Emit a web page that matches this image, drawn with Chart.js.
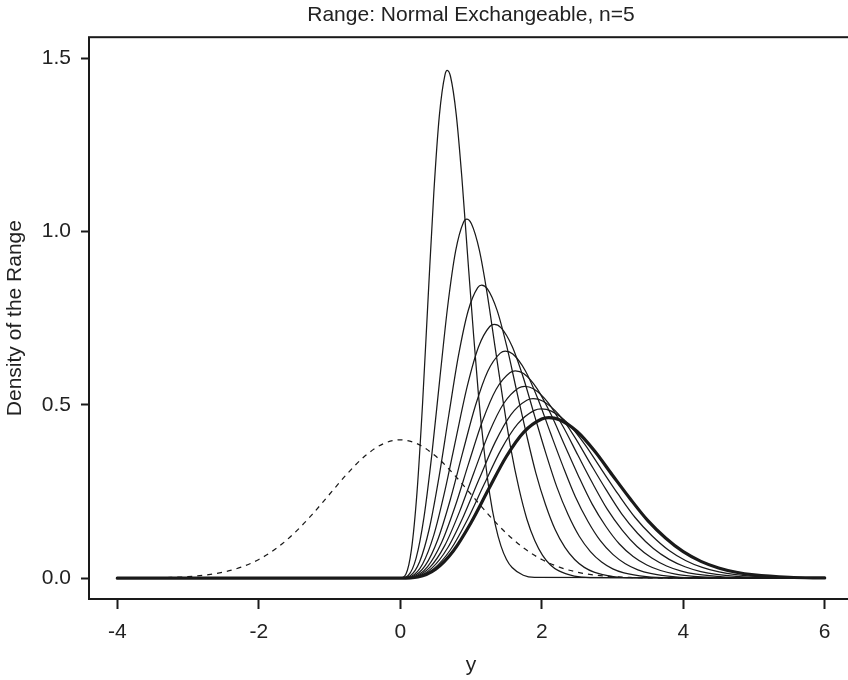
<!DOCTYPE html>
<html>
<head>
<meta charset="utf-8">
<script src="https://cdn.jsdelivr.net/npm/chart.js@4.4.1/dist/chart.umd.min.js"></script>
<style>
  html, body { margin: 0; padding: 0; background: #fff; overflow: hidden; }
  #wrap { width: 848px; height: 680px; overflow: hidden; }
</style>
</head>
<body>
<div id="wrap"><canvas id="chart" width="853" height="680"></canvas></div>
<script>
// Tick values / labels
const xTicks = [-4, -2, 0, 2, 4, 6];
const yTicks = [0, 0.5, 1.0, 1.5];
const yTickLabels = ['0.0', '0.5', '1.0', '1.5'];

// Correlations of the exchangeable normal (one density curve each)
const rhoValues = [0.9, 0.8, 0.7, 0.6, 0.5, 0.4, 0.3, 0.2, 0.1, 0.0];

// Density of the range as [y, density]
const rho90 = [[-4,0],[0,0],[0.079,0.0111],[0.158,0.0822],[0.237,0.2482],[0.316,0.506],[0.395,0.8127],[0.474,1.11],[0.553,1.3345],[0.632,1.4515],[0.664,1.4641],[0.712,1.4452],[0.791,1.3376],[0.87,1.1574],[0.949,0.9392],[1.028,0.7242],[1.107,0.5249],[1.186,0.3668],[1.265,0.2416],[1.344,0.1537],[1.423,0.0933],[1.502,0.0541],[1.581,0.0307],[1.739,0.0085],[1.897,0.0022],[6,0]];
const rho80 = [[-4,0],[0,0],[0.112,0.0078],[0.224,0.0581],[0.335,0.1755],[0.447,0.3578],[0.559,0.5747],[0.671,0.7849],[0.783,0.9436],[0.894,1.0264],[0.939,1.0353],[1.006,1.0219],[1.118,0.9459],[1.23,0.8184],[1.342,0.6641],[1.453,0.5121],[1.565,0.3712],[1.677,0.2594],[1.789,0.1708],[1.901,0.1087],[2.012,0.066],[2.124,0.0382],[2.236,0.0217],[2.46,0.006],[2.683,0.0016],[6,0]];
const rho70 = [[-4,0],[0,0],[0.137,0.0064],[0.274,0.0475],[0.411,0.1433],[0.548,0.2921],[0.685,0.4692],[0.822,0.6408],[0.959,0.7705],[1.095,0.838],[1.15,0.8453],[1.232,0.8344],[1.369,0.7723],[1.506,0.6682],[1.643,0.5423],[1.78,0.4181],[1.917,0.3031],[2.054,0.2118],[2.191,0.1395],[2.328,0.0887],[2.465,0.0539],[2.602,0.0312],[2.739,0.0177],[3.012,0.0049],[3.286,0.0013],[6,0]];
const rho60 = [[-4,0],[0,0],[0.158,0.0055],[0.316,0.0411],[0.474,0.1241],[0.632,0.253],[0.791,0.4064],[0.949,0.555],[1.107,0.6672],[1.265,0.7257],[1.328,0.7321],[1.423,0.7226],[1.581,0.6688],[1.739,0.5787],[1.897,0.4696],[2.055,0.3621],[2.214,0.2625],[2.372,0.1834],[2.53,0.1208],[2.688,0.0768],[2.846,0.0466],[3.004,0.027],[3.162,0.0153],[3.479,0.0043],[3.795,0.0011],[6,0]];
const rho50 = [[-4,0],[0,0],[0.177,0.005],[0.354,0.0368],[0.53,0.111],[0.707,0.2263],[0.884,0.3635],[1.061,0.4964],[1.237,0.5968],[1.414,0.6491],[1.485,0.6548],[1.591,0.6463],[1.768,0.5982],[1.945,0.5176],[2.121,0.42],[2.298,0.3239],[2.475,0.2348],[2.652,0.1641],[2.828,0.1081],[3.005,0.0687],[3.182,0.0417],[3.359,0.0242],[3.536,0.0137],[3.889,0.0038],[4.243,0.001],[6,0]];
const rho40 = [[-4,0],[0,0],[0.194,0.0045],[0.387,0.0336],[0.581,0.1013],[0.775,0.2066],[0.968,0.3318],[1.162,0.4531],[1.356,0.5448],[1.549,0.5926],[1.627,0.5977],[1.743,0.59],[1.936,0.5461],[2.13,0.4725],[2.324,0.3834],[2.517,0.2956],[2.711,0.2143],[2.905,0.1498],[3.098,0.0986],[3.292,0.0627],[3.486,0.0381],[3.679,0.0221],[3.873,0.0125],[4.26,0.0035],[4.648,0.0009],[6,0]];
const rho30 = [[-4,0],[0,0],[0.209,0.0042],[0.418,0.0311],[0.628,0.0938],[0.837,0.1912],[1.046,0.3072],[1.255,0.4195],[1.464,0.5044],[1.673,0.5486],[1.757,0.5534],[1.882,0.5462],[2.092,0.5056],[2.301,0.4375],[2.51,0.355],[2.719,0.2737],[2.928,0.1984],[3.137,0.1387],[3.347,0.0913],[3.556,0.0581],[3.765,0.0353],[3.974,0.0204],[4.183,0.0116],[4.602,0.0032],[5.02,0.0008],[6,0]];
const rho20 = [[-4,0],[0,0],[0.224,0.0039],[0.447,0.0291],[0.671,0.0878],[0.894,0.1789],[1.118,0.2873],[1.342,0.3924],[1.565,0.4718],[1.789,0.5132],[1.878,0.5176],[2.012,0.5109],[2.236,0.4729],[2.46,0.4092],[2.683,0.332],[2.907,0.256],[3.13,0.1856],[3.354,0.1297],[3.578,0.0854],[3.801,0.0543],[4.025,0.033],[4.249,0.0191],[4.472,0.0108],[4.919,0.003],[5.367,0.0008],[6,0]];
const rho10 = [[-4,0],[0,0],[0.237,0.0037],[0.474,0.0274],[0.712,0.0827],[0.949,0.1687],[1.186,0.2709],[1.423,0.37],[1.66,0.4448],[1.897,0.4838],[1.992,0.488],[2.135,0.4817],[2.372,0.4459],[2.609,0.3858],[2.846,0.3131],[3.083,0.2414],[3.32,0.175],[3.558,0.1223],[3.795,0.0805],[4.032,0.0512],[4.269,0.0311],[4.506,0.018],[4.743,0.0102],[5.218,0.0028],[5.692,0.0007],[6,0]];
const rho00 = [[-4,0],[0,0],[0.25,0.0035],[0.5,0.026],[0.75,0.0785],[1,0.16],[1.25,0.257],[1.5,0.351],[1.75,0.422],[2,0.459],[2.1,0.463],[2.25,0.457],[2.5,0.423],[2.75,0.366],[3,0.297],[3.25,0.229],[3.5,0.166],[3.75,0.116],[4,0.0764],[4.25,0.0486],[4.5,0.0295],[4.75,0.0171],[5,0.0097],[5.5,0.0027],[6,0.0007]];

// Standard normal density (dashed reference)
const normal = [[-4,0.0001],[-3.75,0.0004],[-3.5,0.0009],[-3.25,0.002],[-3,0.0044],[-2.75,0.0091],[-2.5,0.0175],[-2.25,0.0317],[-2,0.054],[-1.75,0.0863],[-1.5,0.1295],[-1.25,0.1826],[-1,0.242],[-0.75,0.3011],[-0.5,0.3521],[-0.25,0.3867],[0,0.3989],[0.25,0.3867],[0.5,0.3521],[0.75,0.3011],[1,0.242],[1.25,0.1826],[1.5,0.1295],[1.75,0.0863],[2,0.054],[2.25,0.0317],[2.5,0.0175],[2.75,0.0091],[3,0.0044],[3.25,0.002],[3.5,0.0009],[3.75,0.0004],[4,0.0001],[4.5,0],[5,0],[5.5,0],[6,0]];

const curves = [rho90, rho80, rho70, rho60, rho50, rho40, rho30, rho20, rho10, rho00];

const ink = '#1a1a1a';
const textColor = '#222222';
const fontFamily = '"Liberation Sans", Arial, Helvetica, sans-serif';

const toXY = pts => pts.map(p => ({ x: p[0], y: p[1] }));

const datasets = curves.map((pts, i) => ({
  label: 'rho = ' + rhoValues[i],
  data: toXY(pts),
  borderColor: ink,
  borderWidth: rhoValues[i] === 0 ? 3.2 : 1.25,
  borderCapStyle: 'round',
  pointRadius: 0,
  fill: false,
  cubicInterpolationMode: 'monotone',
}));

datasets.push({
  label: 'N(0,1)',
  data: toXY(normal),
  borderColor: ink,
  borderWidth: 1.25,
  borderDash: [5, 5],
  pointRadius: 0,
  fill: false,
  cubicInterpolationMode: 'monotone',
});

// box around the plot region (right edge falls off the canvas)
const plotBox = {
  id: 'plotBox',
  afterDraw(chart) {
    const { ctx, chartArea: a } = chart;
    ctx.save();
    ctx.strokeStyle = ink;
    ctx.lineWidth = 2;
    ctx.strokeRect(a.left, a.top, a.right - a.left, a.bottom - a.top);
    ctx.restore();
  }
};

new Chart(document.getElementById('chart'), {
  type: 'line',
  data: { datasets },
  plugins: [plotBox],
  options: {
    responsive: false,
    animation: false,
    events: [],
    layout: { padding: 0 },
    plugins: {
      legend: { display: false },
      tooltip: { enabled: false },
      title: {
        display: true,
        text: 'Range: Normal Exchangeable, n=5',
        color: textColor,
        fullSize: false,
        font: { family: fontFamily, size: 21, weight: 'normal' },
        padding: { top: 3, bottom: 9 },
      },
    },
    scales: {
      x: {
        type: 'linear',
        min: -4.4,
        max: 6.4,
        afterBuildTicks: s => { s.ticks = xTicks.map(v => ({ value: v })); },
        afterFit: s => { s.height = 81; },
        border: { display: false },
        grid: { drawOnChartArea: false, tickLength: 10, tickWidth: 2, tickColor: ink },
        ticks: {
          color: textColor, padding: 11, maxRotation: 0, autoSkip: false,
          font: { family: fontFamily, size: 21 },
        },
        title: {
          display: true, text: 'y', color: textColor,
          font: { family: fontFamily, size: 21 },
          padding: { top: 0, bottom: 2 },
        },
      },
      y: {
        min: -0.06,
        max: 1.56,
        afterBuildTicks: s => { s.ticks = yTicks.map(v => ({ value: v })); },
        afterFit: s => { s.width = 89; },
        border: { display: false },
        grid: { drawOnChartArea: false, tickLength: 8, tickWidth: 2, tickColor: ink },
        ticks: {
          color: textColor, padding: 10, autoSkip: false,
          font: { family: fontFamily, size: 21 },
          callback: (v, i) => yTickLabels[i],
        },
        title: {
          display: true, text: 'Density of the Range', color: textColor,
          font: { family: fontFamily, size: 21 },
          padding: { top: 3, bottom: 0 },
        },
      },
    },
  },
});
</script>
</body>
</html>
